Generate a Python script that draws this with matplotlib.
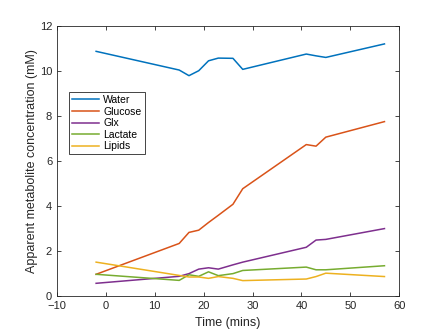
import matplotlib
matplotlib.use("Agg")
import matplotlib.pyplot as plt

plt.rcParams['font.family'] = ['Liberation Sans', 'DejaVu Sans']

time = [-2, 15, 17, 19, 21, 23, 26, 28, 41, 43, 45, 57]
water = [10.87, 10.04, 9.79, 10.01, 10.45, 10.57, 10.56, 10.07, 10.75, 10.67, 10.6, 11.2]
glucose = [0.97, 2.34, 2.83, 2.93, 3.27, 3.59, 4.08, 4.77, 6.73, 6.66, 7.06, 7.75]
glx = [0.57, 0.88, 1.0, 1.2, 1.26, 1.2, 1.39, 1.51, 2.17, 2.49, 2.52, 3.0]
lactate = [0.97, 0.70, 0.95, 0.88, 1.08, 0.91, 1.0, 1.14, 1.29, 1.17, 1.17, 1.35]
lipids = [1.51, 0.92, 0.85, 0.85, 0.79, 0.87, 0.79, 0.69, 0.76, 0.87, 1.02, 0.87]

names = ['Water', 'Glucose', 'Glx', 'Lactate', 'Lipids']
colors = [(0, 0.447, 0.741), (0.85, 0.325, 0.098), (0.494, 0.184, 0.556),
          (0.466, 0.674, 0.188), (0.929, 0.694, 0.125)]

fig = plt.figure(figsize=(4.42, 3.32), dpi=100)
ax = fig.add_axes([0.129, 0.108, 0.774, 0.814])

for series, name, c in zip([water, glucose, glx, lactate, lipids], names, colors):
    ax.plot(time, series, color=c, lw=1.1, label=name)

ax.set_xlim(-10, 60)
ax.set_ylim(0, 12)
ax.set_xticks(range(-10, 61, 10))
ax.set_yticks(range(0, 13, 2))
ax.tick_params(direction='in', top=True, right=True, labelsize=8,
               colors=(0.15, 0.15, 0.15), length=3, width=0.6)
for s in ax.spines.values():
    s.set_color((0.15, 0.15, 0.15))
    s.set_linewidth(0.6)

ax.set_xlabel('Time (mins)', fontsize=9, color=(0.15, 0.15, 0.15), labelpad=4)
ax.set_ylabel('Apparent metabolite concentration (mM)', fontsize=9,
              color=(0.15, 0.15, 0.15), labelpad=1)

leg = ax.legend(loc='upper left', bbox_to_anchor=(0.02, 0.775), fontsize=7.5,
                handlelength=2.6, handletextpad=0.4, borderpad=0.3,
                labelspacing=0.15, fancybox=False, framealpha=1)
leg.get_frame().set_edgecolor((0.15, 0.15, 0.15))
leg.get_frame().set_linewidth(0.6)

fig.savefig('out.png', dpi=100)
